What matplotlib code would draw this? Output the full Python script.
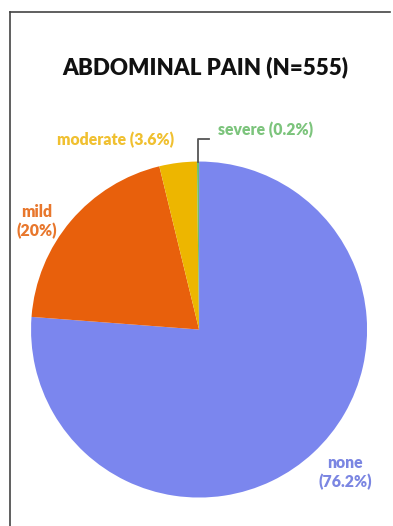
import numpy as np
import matplotlib
matplotlib.use("Agg")
import matplotlib.pyplot as plt
from matplotlib.lines import Line2D

CATEGORIES = ["none", "mild", "moderate", "severe"]
PERCENTS = [76.2, 20.0, 3.6, 0.2]
SHARE_LABELS = ["76.2%", "20%", "3.6%", "0.2%"]

WEDGE_COLORS = ["#7B86EE", "#E8600C", "#EDB600", "#6CBF6C"]
LABEL_COLORS = ["#7B86E2", "#E8772C", "#F0C030", "#7CC47C"]

plt.rcParams["font.family"] = ["Lato", "DejaVu Sans"]

fig = plt.figure(figsize=(3.93, 5.26), dpi=100)

# frame on left and top edges
fig.add_artist(Line2D([0.026, 0.026], [0.0, 0.977], color="#444444", lw=1.2))
fig.add_artist(Line2D([0.026, 0.992], [0.977, 0.977], color="#444444", lw=1.2))

fig.text(0.522, 0.872, "ABDOMINAL PAIN (N=555)", ha="center", va="center",
         fontsize=16, fontweight="heavy", color="#111111")

ax = fig.add_axes([0.079, 0.054, 0.855, 0.639])
wedges, _ = ax.pie(PERCENTS, colors=WEDGE_COLORS, startangle=90,
                   counterclock=False, radius=1.0)
ax.set_xlim(-1, 1)
ax.set_ylim(-1, 1)
ax.set_aspect("equal")
ax.axis("off")

label_pos = {
    "none": (0.869, -0.851, "center"),
    "mild": (-0.964, 0.643, "center"),
    "moderate": (-0.494, 1.131, "center"),
    "severe": (0.113, 1.19, "left"),
}
for cat, share, col in zip(CATEGORIES, SHARE_LABELS, LABEL_COLORS):
    x, y, ha = label_pos[cat]
    if cat in ("none", "mild"):
        txt = f"{cat}\n({share})"
    else:
        txt = f"{cat} ({share})"
    ax.text(x, y, txt, ha=ha, va="center", fontsize=11.3, fontweight="heavy",
            color=col, linespacing=1.15, clip_on=False)

# leader line for the tiny severe slice
w = wedges[3]
mid = np.deg2rad((w.theta1 + w.theta2) / 2)
x0, y0 = np.cos(mid), np.sin(mid)
ax.plot([x0, x0, x0 + 0.065], [y0, 1.137, 1.137], color="#555555", lw=1.3,
        clip_on=False)

fig.savefig("out.png", dpi=100)
